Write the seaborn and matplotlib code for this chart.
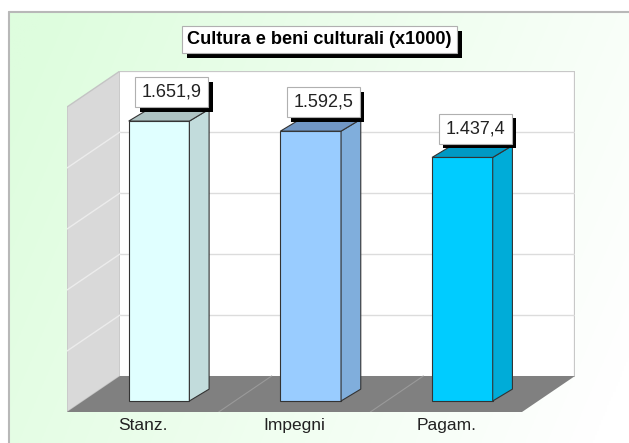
import numpy as np
import seaborn as sns
import matplotlib.pyplot as plt
import matplotlib.patheffects as pe
from matplotlib.patches import Polygon
from matplotlib.lines import Line2D

categories = ['Stanz.', 'Impegni', 'Pagam.']
values = [1651.9, 1592.5, 1437.4]
value_labels = ['1.651,9', '1.592,5', '1.437,4']
front_colors = ['#e0ffff', '#99ccff', '#00ccff']
side_colors = ['#c2dcdc', '#80aedc', '#00acd8']
top_colors = ['#adc2c2', '#7096c4', '#0099c4']
title = 'Cultura e beni culturali (x1000)'

y_max = 1800
grid_step = 360

# oblique "3d" geometry, in data units
box_dx, box_dy = 0.3495, 212.5   # full depth of the floor/walls
front_pos = 0.306                 # where the bar fronts sit (0 = front edge)
bar_dx, bar_dy = 0.13, 70         # depth of each bar

W, H = 629, 443
sns.set_style('white')
plt.rcParams['font.family'] = ['Liberation Sans', 'DejaVu Sans']

fig = plt.figure(figsize=(W / 100, H / 100), dpi=100)
fig.patch.set_facecolor('white')

# background panel with a soft green -> white gradient
bg = fig.add_axes([9 / W, 0, (W - 9) / W, (H - 12) / H], zorder=0)
gx, gy = np.meshgrid(np.linspace(0, 1, 300), np.linspace(0, 1, 200))
t = np.clip(0.85 * gx + 0.25 * gy - 0.05, 0, 1)
c0 = np.array([222, 253, 222]) / 255
c1 = np.array([255, 255, 255]) / 255
img = c0[None, None, :] * (1 - t[..., None]) + c1[None, None, :] * t[..., None]
bg.imshow(img, aspect='auto', extent=[0, 1, 0, 1])
bg.set_axis_off()
fig.add_artist(Line2D([9 / W, 9 / W], [0, 1 - 12 / H], color='#b8b8b8', lw=1.5))
fig.add_artist(Line2D([9 / W, 1], [1 - 12 / H, 1 - 12 / H], color='#b8b8b8', lw=1.5))

# main axes = the whole projected box
ax = fig.add_axes([67 / W, (H - 412) / H, (575 - 67) / W, (412 - 71) / H], zorder=2)
ax.set_facecolor('none')

sns.barplot(x=categories, y=values, hue=categories, palette=front_colors,
            width=0.4, edgecolor='#333333', linewidth=0.8, legend=False,
            ax=ax, zorder=5, saturation=1)
bars = sorted([p for c in ax.containers for p in c], key=lambda r: r.get_x())

fx0 = -0.5 - front_pos * box_dx
fy0 = -front_pos * box_dy
bx0 = -0.5 + (1 - front_pos) * box_dx
by0 = (1 - front_pos) * box_dy
n = len(categories)
ax.set_xlim(fx0, n - 0.5 + (1 - front_pos) * box_dx)
ax.set_ylim(fy0, y_max + by0)

# walls and floor
ax.add_patch(Polygon([(fx0, fy0), (bx0, by0), (bx0, by0 + y_max), (fx0, fy0 + y_max)],
                     facecolor='#d9d9d9', edgecolor='#c4c4c4', lw=1, zorder=1))
ax.add_patch(Polygon([(bx0, by0), (bx0 + n, by0), (bx0 + n, by0 + y_max), (bx0, by0 + y_max)],
                     facecolor='white', edgecolor='none', zorder=1))
ax.plot([bx0, bx0 + n, bx0 + n], [by0 + y_max, by0 + y_max, by0], color='#c8c8c8', lw=1.6, zorder=2)
for v in range(grid_step, y_max, grid_step):
    ax.plot([bx0, bx0 + n], [by0 + v, by0 + v], color='#dcdcdc', lw=1, zorder=2)
    ax.plot([fx0, bx0], [fy0 + v, by0 + v], color='#ececec', lw=1, zorder=2)
ax.add_patch(Polygon([(fx0, fy0), (fx0 + n, fy0), (bx0 + n, by0), (bx0, by0)],
                     facecolor='#808080', edgecolor='none', zorder=3))
for k in range(1, n):
    ax.plot([fx0 + k, bx0 + k], [fy0, by0], color='#9a9a9a', lw=0.8, zorder=3)

# side and top faces of each bar
for i, p in enumerate(bars):
    x0, w, h = p.get_x(), p.get_width(), p.get_height()
    ax.add_patch(Polygon([(x0 + w, 0), (x0 + w + bar_dx, bar_dy), (x0 + w + bar_dx, h + bar_dy), (x0 + w, h)],
                         facecolor=side_colors[i], edgecolor='#333333', lw=0.8, zorder=5))
    ax.add_patch(Polygon([(x0, h), (x0 + w, h), (x0 + w + bar_dx, h + bar_dy), (x0 + bar_dx, h + bar_dy)],
                         facecolor=top_colors[i], edgecolor='#333333', lw=0.8, zorder=5))
    lab = ax.annotate(value_labels[i], (x0 + w / 2 + bar_dx * 0.65, h + bar_dy),
                      xytext=(0, 6), textcoords='offset points', ha='center', va='bottom',
                      fontsize=13, color='#222222', zorder=10,
                      bbox=dict(boxstyle='square,pad=0.36', facecolor='white', edgecolor='#b0b0b0', lw=0.8))
    lab.get_bbox_patch().set_path_effects([
        pe.SimplePatchShadow(offset=(3, -3), shadow_rgbFace='black', alpha=1), pe.Normal()])

# category axis along the front edge of the floor
for s in ax.spines.values():
    s.set_visible(False)
ax.set_xticks([fx0 + 0.5 + k for k in range(n)])
ax.set_xticklabels(categories, fontsize=12.5, color='#222222')
ax.set_xticks([fx0 + k for k in range(n + 1)], minor=True)
ax.tick_params(axis='x', which='major', length=0, pad=4)
ax.tick_params(axis='x', which='minor', length=11, width=1, color='#555555', direction='out')
ax.set_yticks([])
ax.set_xlabel('')
ax.set_ylabel('')

t = fig.text(319.5 / W, 1 - 39.5 / H, title, ha='center', va='center', fontsize=13.1,
             fontweight='bold', color='black', zorder=10,
             bbox=dict(boxstyle='square,pad=0.3', facecolor='white', edgecolor='#b0b0b0', lw=0.8))
t.get_bbox_patch().set_path_effects([
    pe.SimplePatchShadow(offset=(3.6, -3.6), shadow_rgbFace='black', alpha=1), pe.Normal()])

fig.savefig('out.png', dpi=100)
